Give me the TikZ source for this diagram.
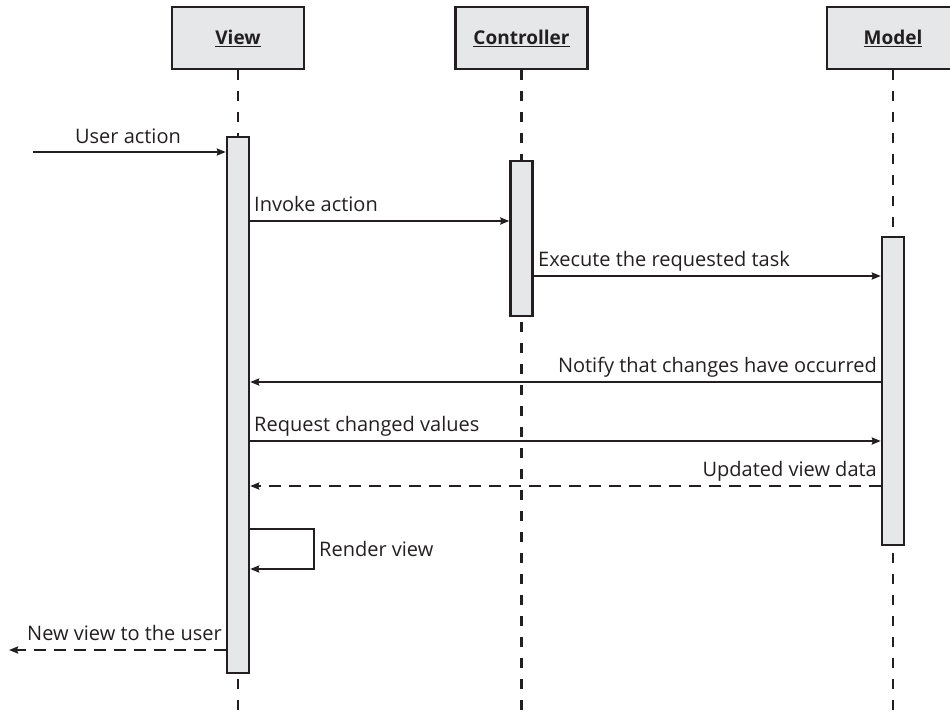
\documentclass[tikz,border=0pt]{standalone}
\usepackage{fontspec}
\setmainfont{Open Sans}
\usetikzlibrary{arrows.meta}
\definecolor{ink}{HTML}{231F20}
\definecolor{boxfill}{HTML}{E6E7E8}
\tikzset{
  x=1pt, y=-1pt,
  header/.style={draw=ink, fill=boxfill, line width=2.6pt, minimum width=132pt, minimum height=62pt, inner sep=0pt, font=\fontsize{19}{22}\selectfont\bfseries, text=ink},
  actbar/.style={draw=ink, fill=boxfill, line width=2.4pt, minimum width=22pt, inner sep=0pt, anchor=north},
  lifeline/.style={draw=ink, line width=2.2pt, dash pattern=on 10pt off 11pt},
  msg/.style={draw=ink, line width=2pt, -{Stealth[length=9pt,width=7pt,inset=1pt]}},
  reply/.style={msg, dash pattern=on 12pt off 8pt},
  lbl/.style={font=\fontsize{20}{23}\selectfont, text=ink, inner sep=0pt},
}
\begin{document}
\begin{tikzpicture}
\clip (0,0) rectangle (950,713);
\useasboundingbox (0,0) rectangle (950,713);
% headers
\node[header] (hv) at (238,38) {\underline{View}};
\node[header] (hc) at (521.5,38) {\underline{Controller}};
\node[header] (hm) at (893,38) {\underline{Model}};
% lifeline ends
\coordinate (ev) at (238,713);
\coordinate (ec) at (521.5,713);
\coordinate (em) at (893,713);
\draw[lifeline] (hv.south) -- (ev);
\draw[lifeline] (hc.south) -- (ec);
\draw[lifeline] (hm.south) -- (em);
% activation bars
\node[actbar, minimum height=536pt] (av) at (238,136) {};
\node[actbar, minimum height=155pt] (ac) at (521.5,160) {};
\node[actbar, minimum height=308pt] (am) at (893,236) {};
% message levels
\coordinate (ustart) at (33,152);
\coordinate (y1) at (0,221);
\coordinate (y2) at (0,276);
\coordinate (y3) at (0,382);
\coordinate (y4) at (0,441);
\coordinate (y5) at (0,486);
\coordinate (r1) at (314,529);
\coordinate (r2) at (314,569);
\coordinate (uend) at (9,650);
% messages
\draw[msg] (ustart) -- (ustart -| av.west);
\node[lbl, anchor=base] (l0) at (128,143) {User action};
\draw[msg] (av.east |- y1) -- (ac.west |- y1);
\node[lbl, anchor=base west] (l1) at (254,211) {Invoke action};
\draw[msg] (ac.east |- y2) -- (am.west |- y2);
\node[lbl, anchor=base west] (l2) at (538,266) {Execute the requested task};
\draw[msg] (am.west |- y3) -- (av.east |- y3);
\node[lbl, anchor=base east] (l3) at (877,372) {Notify that changes have occurred};
\draw[msg] (av.east |- y4) -- (am.west |- y4);
\node[lbl, anchor=base west] (l4) at (254,431) {Request changed values};
\draw[reply] (am.west |- y5) -- (av.east |- y5);
\node[lbl, anchor=base east] (l5) at (877,476) {Updated view data};
\draw[msg] (av.east |- r1) -- (r1) -- (r2) -- (av.east |- r2);
\node[lbl, anchor=base west] (l6) at (319,556) {Render view};
\draw[reply] (av.west |- uend) -- (uend);
\node[lbl, anchor=base east] (l7) at (222,640) {New view to the user};
\end{tikzpicture}
\end{document}
